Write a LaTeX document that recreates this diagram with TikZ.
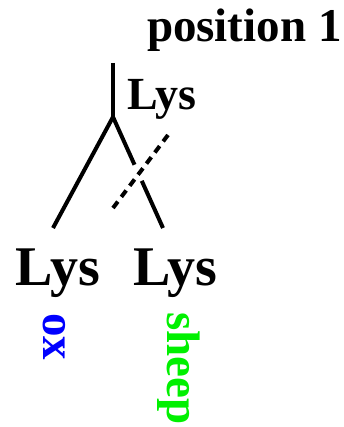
\documentclass[tikz,border=0pt]{standalone}
\usepackage{fontspec}
\setmainfont{Liberation Serif}
\usetikzlibrary{calc}
\definecolor{oxblue}{RGB}{0,0,255}
\definecolor{sheepgreen}{RGB}{0,240,0}
\tikzset{
  lbl/.style={inner sep=0pt, outer sep=0pt, anchor=base west, font=\bfseries},
  branch/.style={line width=4pt, black},
  dashbranch/.style={line width=4pt, black, dash pattern=on 8pt off 5.9pt},
}
\begin{document}
\begin{tikzpicture}[x=1pt,y=-1pt]
\useasboundingbox (0,0) rectangle (344,427);
\node[lbl, font=\bfseries\fontsize{47}{50}\selectfont] (title) at (147,42) {position 1};
\node[lbl, font=\bfseries\fontsize{46}{50}\selectfont] (root) at (127,110) {Lys};
\node[lbl, font=\bfseries\fontsize{56}{60}\selectfont] (leafL) at (16,285) {Lys};
\node[lbl, font=\bfseries\fontsize{56}{60}\selectfont] (leafR) at (133,285) {Lys};
\node[lbl, rotate=-90, text=oxblue, font=\bfseries\fontsize{47}{50}\selectfont] (ox) at (43,313) {ox};
\node[lbl, rotate=-90, text=sheepgreen, font=\bfseries\fontsize{47}{50}\selectfont] (sheep) at (167,312) {sheep};
\coordinate (stem) at (113,63);
\coordinate (fork) at (113,117);
\coordinate (endL) at (53,228);
\coordinate (endR) at (163,228);
\coordinate (dashA) at (168,135);
\coordinate (dashB) at (113,208);
\draw[branch] (stem) -- (fork);
\draw[branch] (fork) -- (endL);
\draw[branch] (fork) -- ($(fork)!0.43!(endR)$);
\draw[branch] ($(fork)!0.575!(endR)$) -- (endR);
\draw[dashbranch] (dashA) -- (dashB);
\end{tikzpicture}
\end{document}
